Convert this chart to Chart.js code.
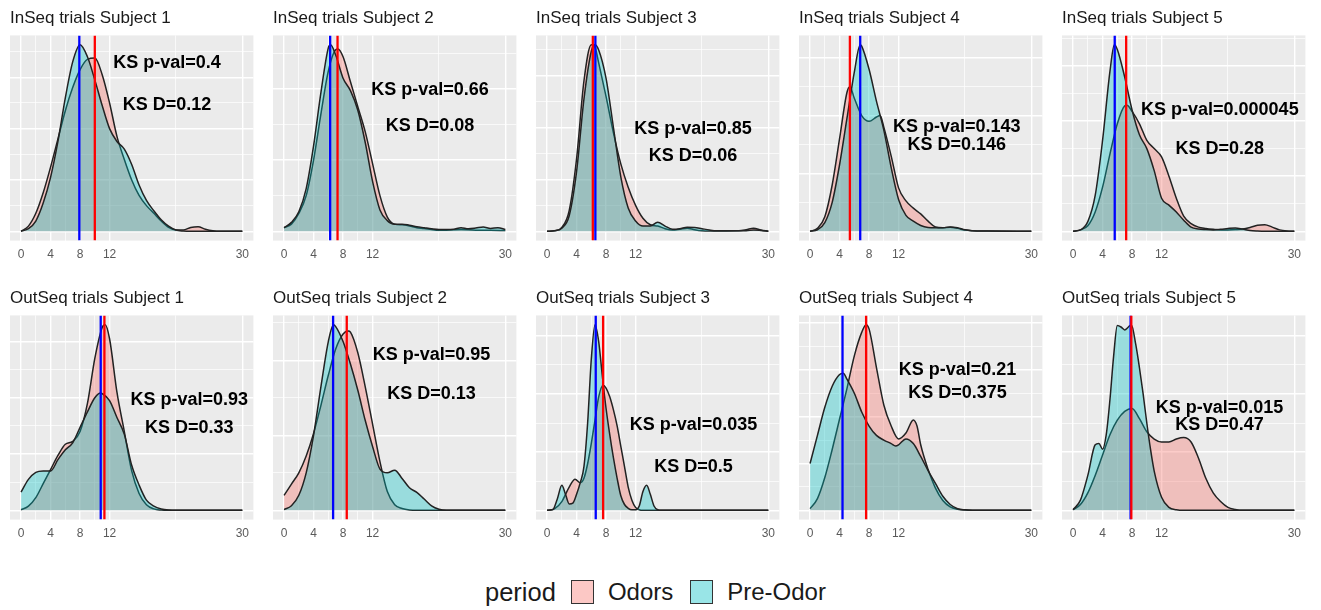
<!DOCTYPE html>
<html>
<head>
<meta charset="utf-8">
<script src="https://cdn.jsdelivr.net/npm/chart.js@4.4.1/dist/chart.umd.min.js"></script>
<style>
  body {
    margin: 0;
    background: #fff;
    width: 1321px;
    height: 610px;
    position: relative;
    overflow: hidden;
    font-family: 'Liberation Sans', Arial, sans-serif;
  }
  .panel { position: absolute; }
  .legend {
    position: absolute;
    left: 485px;
    top: 578px;
    height: 28px;
    display: flex;
    align-items: center;
    font-size: 24px;
    color: #1a1a1a;
    white-space: nowrap;
  }
  .legend .ltitle { font-size: 25.5px; }
  .legend .key {
    display: inline-block;
    width: 21px;
    height: 22px;
    border: 1px solid #333;
    margin: 0 14px 0 15px;
  }
  .legend .key.second { margin-left: 17px; }
</style>
</head>
<body>
<div id="panels"></div>
<div class="legend">
  <span class="ltitle">period</span>
  <span class="key" style="background: rgba(248,118,109,0.4)"></span><span>Odors</span>
  <span class="key second" style="background: rgba(0,191,196,0.4)"></span><span>Pre-Odor</span>
</div>

<script>
// ---- axis breaks (reaction time axis, shared by all panels) ----
const xTickLabels = [0, 4, 8, 12, 30];
const xMinorBreaks = [2, 6, 10, 21];

const panelTitles = [
  'InSeq trials Subject 1', 'InSeq trials Subject 2', 'InSeq trials Subject 3',
  'InSeq trials Subject 4', 'InSeq trials Subject 5',
  'OutSeq trials Subject 1', 'OutSeq trials Subject 2', 'OutSeq trials Subject 3',
  'OutSeq trials Subject 4', 'OutSeq trials Subject 5'
];

const ksPval = ['0.4', '0.66', '0.85', '0.143', '0.000045', '0.93', '0.95', '0.035', '0.21', '0.015'];
const ksD = ['0.12', '0.08', '0.06', '0.146', '0.28', '0.33', '0.13', '0.5', '0.375', '0.47'];

// vertical reference lines (red = Odors, blue = Pre-Odor)
const odorsCenter = [10.0, 7.25, 6.2, 5.4, 7.2, 11.3, 8.5, 7.6, 7.6, 7.9];
const preOdorCenter = [7.9, 6.25, 6.55, 6.8, 5.65, 10.8, 6.65, 6.6, 4.4, 7.8];

// annotate() anchors: [x, y of p-val line, y of D line]
const ksLabelAt = [
  [19.8, 6.56, 4.93], [19.8, 3.96, 2.97], [19.8, 3.96, 2.92], [19.9, 3.6, 2.97], [19.9, 4.4, 3.0],
  [22.8, 3.93, 2.92], [20.0, 4.15, 3.1], [19.85, 2.93, 1.49], [20.0, 6.0, 5.0], [19.85, 3.5, 2.93]
];

// ---- kernel density estimates, [x, density] ----
const inSeq1Odors = [[0,0],[1,0.2],[2,0.7],[3,1.5],[4,2.5],[5,3.6],[6,4.7],[7,5.6],[8,6.3],[9,6.7],[10,6.75],[11,6.1],[12,5.0],[13,3.7],[14,2.8],[15,2.0],[16,1.4],[17,1.0],[18,0.7],[19,0.4],[20,0.15],[21,0.05],[22,0.05],[23,0.15],[24,0.18],[25,0.08],[26,0.02],[27,0],[30,0]];
const inSeq1Pre = [[0,0],[1,0.1],[2,0.4],[3,1.1],[4,2.1],[5,3.5],[6,5.2],[7,6.6],[8,7.27],[9,6.8],[10,5.9],[11,4.9],[12,4.0],[13,3.5],[14,3.2],[15,2.6],[16,1.8],[17,1.2],[18,0.8],[19,0.45],[20,0.2],[21,0.05],[22,0.01],[23,0],[30,0]];

const inSeq2Odors = [[0,0.1],[1,0.2],[2,0.5],[3,1.0],[4,2.0],[5,3.3],[6,4.5],[7,5.1],[7.3,5.12],[8,4.9],[9,4.2],[10,3.5],[11,2.8],[12,1.9],[13,1.0],[14,0.4],[15,0.2],[16,0.18],[17,0.15],[18,0.1],[19,0.08],[20,0.05],[21,0.03],[22,0.03],[24,0.05],[26,0.03],[28,0.03],[30,0.02]];
const inSeq2Pre = [[0,0.1],[1,0.25],[2,0.55],[3,1.2],[4,2.4],[5,3.9],[6,5.15],[6.3,5.24],[7,4.95],[8,4.3],[9,3.95],[10,3.4],[11,2.5],[12,1.4],[13,0.6],[14,0.3],[15,0.2],[16,0.2],[17,0.17],[18,0.13],[19,0.1],[20,0.07],[21,0.05],[22,0.05],[23,0.06],[24,0.1],[25,0.07],[26,0.09],[27,0.12],[28,0.08],[29,0.1],[30,0.05]];

const inSeq3Odors = [[0,0],[1,0.02],[2,0.15],[3,0.8],[4,2.8],[5,5.8],[6,7.2],[6.5,7.1],[7,6.5],[8,5.2],[9,3.8],[10,2.6],[11,1.7],[12,1.0],[13,0.5],[14,0.25],[15,0.2],[16,0.1],[17,0.05],[18,0.08],[19,0.12],[20,0.06],[21,0.02],[22,0.01],[26,0.02],[27,0.06],[28,0.12],[29,0.05],[30,0]];
const inSeq3Pre = [[0,0],[1,0.02],[2,0.12],[3,0.6],[4,2.3],[5,5.1],[6,6.95],[6.5,7.2],[7,7.0],[8,5.9],[9,4.0],[10,2.1],[11,0.9],[12,0.4],[13,0.2],[14,0.2],[15,0.35],[16,0.2],[17,0.08],[18,0.1],[19,0.16],[20,0.15],[21,0.1],[22,0.05],[23,0.02],[27,0.02],[28,0.05],[29,0.03],[30,0]];

const inSeq4Odors = [[0,0],[1,0.1],[2,0.5],[3,1.6],[4,3.2],[5,4.8],[5.4,5.0],[6,4.6],[7,4.0],[8,3.8],[9,3.95],[9.5,4.0],[10,3.6],[11,2.6],[12,1.5],[13,1.05],[14,0.8],[15,0.6],[16,0.35],[17,0.15],[18,0.12],[19,0.14],[20,0.1],[21,0.04],[22,0.02],[24,0.01],[30,0]];
const inSeq4Pre = [[0,0],[1,0.05],[2,0.3],[3,1.0],[4,2.3],[5,3.9],[6,5.5],[6.8,6.45],[7,6.4],[8,5.6],[9,4.5],[10,3.5],[11,2.2],[12,1.1],[13,0.55],[14,0.35],[15,0.2],[16,0.13],[17,0.12],[18,0.12],[19,0.15],[20,0.12],[21,0.05],[22,0.02],[24,0.01],[30,0]];

const inSeq5Odors = [[0,0],[1,0.05],[2,0.2],[3,0.7],[4,1.6],[5,2.8],[6,3.9],[7,4.55],[7.3,4.57],[8,4.35],[9,3.9],[10,3.3],[11,3.0],[12,2.7],[13,2.0],[14,1.2],[15,0.55],[16,0.28],[17,0.15],[18,0.1],[19,0.07],[20,0.05],[21,0.05],[22,0.06],[23,0.08],[24,0.14],[25,0.22],[26,0.24],[27,0.15],[28,0.05],[29,0.01],[30,0]];
const inSeq5Pre = [[0,0],[1,0.05],[2,0.35],[3,1.3],[4,3.3],[5,5.8],[5.6,6.77],[6,6.6],[7,5.6],[8,4.4],[9,3.5],[10,3.0],[11,2.2],[12,1.2],[13,0.95],[14,0.7],[15,0.4],[16,0.15],[17,0.08],[18,0.06],[19,0.05],[20,0.07],[21,0.1],[22,0.12],[23,0.08],[24,0.03],[25,0.01],[26,0],[30,0]];

const outSeq1Odors = [[0,0.02],[1,0.15],[2,0.45],[3,0.95],[4,1.45],[5,1.95],[6,2.35],[7,2.45],[8,2.8],[9,3.8],[10,5.4],[11,6.5],[11.4,6.6],[12,6.1],[13,4.2],[14,2.8],[15,1.4],[16,0.6],[17,0.2],[18,0.05],[19,0.01],[20,0],[30,0]];
const outSeq1Pre = [[0,0.65],[1,1.1],[2,1.35],[3,1.4],[4,1.4],[5,1.8],[6,2.15],[7,2.4],[8,2.95],[9,3.5],[10,4.0],[10.8,4.17],[11,4.15],[12,3.9],[13,3.3],[14,2.7],[15,1.6],[16,0.9],[17,0.36],[18,0.15],[19,0.05],[20,0.01],[21,0],[30,0]];

const outSeq2Odors = [[0,0.4],[1,0.7],[2,1.0],[3,1.45],[4,2.05],[5,2.8],[6,3.6],[7,4.3],[8,4.7],[8.7,4.78],[9,4.75],[10,4.2],[11,3.3],[12,2.3],[13,1.3],[14,0.5],[15,0.15],[16,0.05],[17,0.01],[18,0],[30,0]];
const outSeq2Pre = [[0,0.02],[1,0.12],[2,0.4],[3,1.0],[4,2.0],[5,3.3],[6,4.5],[6.7,4.95],[7,4.9],[8,4.5],[9,3.9],[10,3.2],[11,2.4],[12,1.7],[13,1.1],[14,1.0],[15,1.07],[16,0.85],[17,0.6],[18,0.48],[19,0.3],[20,0.12],[21,0.03],[22,0],[30,0]];

const outSeq3Odors = [[0,0],[1,0.05],[2,0.3],[3,0.8],[3.8,1.07],[4.5,0.95],[5,1.1],[5.5,1.6],[6,2.3],[6.5,3.1],[7,3.9],[7.6,4.3],[8,4.2],[8.5,3.9],[9,3.45],[9.5,2.9],[10,2.2],[10.5,1.5],[11,0.8],[11.5,0.35],[12,0.1],[12.5,0.02],[13,0],[30,0]];
const outSeq3Pre = [[0,0],[0.8,0.03],[1.4,0.4],[2,0.86],[2.5,0.55],[3,0.22],[3.5,0.25],[4,0.55],[4.5,0.95],[5,1.5],[5.5,3.0],[6,5.2],[6.5,6.38],[7,5.8],[7.5,4.6],[8,3.5],[8.5,2.6],[9,1.8],[9.5,1.1],[10,0.5],[10.5,0.2],[11,0.07],[11.5,0.02],[12,0.02],[12.5,0.15],[13,0.65],[13.5,0.86],[14,0.55],[14.5,0.15],[15,0.02],[15.5,0],[30,0]];

const outSeq4Odors = [[0,0.07],[1,0.5],[2,1.4],[3,2.6],[4,3.9],[5,5.2],[6,6.6],[7,7.6],[7.6,7.93],[8,7.75],[9,6.1],[10,4.5],[11,3.6],[12,3.05],[13,3.3],[14,3.86],[14.5,3.6],[15,2.8],[16,1.75],[17,0.95],[18,0.42],[19,0.15],[20,0.05],[21,0.01],[22,0],[30,0]];
const outSeq4Pre = [[0,2.0],[1,3.2],[2,4.4],[3,5.3],[4,5.8],[4.5,5.86],[5,5.6],[6,5.0],[7,4.2],[8,3.6],[9,3.2],[10,3.0],[11,2.85],[11.6,2.75],[12,2.8],[13,3.05],[14,2.85],[15,2.3],[16,1.7],[17,1.15],[18,0.6],[19,0.25],[20,0.07],[21,0.02],[22,0],[30,0]];

const outSeq5Odors = [[0,0.02],[1,0.2],[2,0.6],[3,1.2],[4,1.9],[5,2.6],[6,3.1],[7,3.4],[8,3.5],[9,3.15],[10,2.7],[11,2.45],[12,2.35],[13,2.35],[14,2.45],[15,2.5],[16,2.35],[17,1.8],[18,1.1],[19,0.6],[20,0.3],[21,0.1],[22,0.03],[23,0],[30,0]];
const outSeq5Pre = [[0,0.02],[1,0.35],[2,1.2],[3,2.25],[3.5,2.3],[4,2.1],[4.5,2.6],[5,3.8],[5.5,5.3],[6,6.35],[6.5,6.3],[7,6.2],[7.5,6.3],[7.9,6.38],[8.5,5.7],[9,4.9],[9.5,4.0],[10,3.0],[10.5,2.1],[11,1.35],[12,0.45],[13,0.1],[14,0.02],[15,0],[30,0]];

const odorsDensity = [inSeq1Odors, inSeq2Odors, inSeq3Odors, inSeq4Odors, inSeq5Odors,
                      outSeq1Odors, outSeq2Odors, outSeq3Odors, outSeq4Odors, outSeq5Odors];
const preOdorDensity = [inSeq1Pre, inSeq2Pre, inSeq3Pre, inSeq4Pre, inSeq5Pre,
                        outSeq1Pre, outSeq2Pre, outSeq3Pre, outSeq4Pre, outSeq5Pre];

// ---- drawing ----
const FONT = "'Liberation Sans', Arial, sans-serif";
const ODORS_FILL = 'rgba(248,118,109,0.37)';
const PRE_FILL = 'rgba(0,191,196,0.35)';

// grey panel background, mean lines and KS text
const panelDecor = {
  id: 'panelDecor',
  beforeDraw(chart) {
    const a = chart.chartArea, ctx = chart.ctx;
    ctx.save();
    ctx.fillStyle = '#EBEBEB';
    ctx.fillRect(a.left, a.top, a.right - a.left, a.bottom - a.top);
    ctx.restore();
  },
  afterDatasetsDraw(chart, args, opts) {
    const a = chart.chartArea, ctx = chart.ctx, xs = chart.scales.x;
    ctx.save();
    ctx.beginPath();
    ctx.rect(a.left, a.top, a.right - a.left, a.bottom - a.top);
    ctx.clip();
    ctx.lineWidth = 2.3;
    [[opts.blue, '#0000FF'], [opts.red, '#FF0000']].forEach(([v, col]) => {
      const px = xs.getPixelForValue(v);
      ctx.strokeStyle = col;
      ctx.beginPath();
      ctx.moveTo(px, a.top);
      ctx.lineTo(px, a.bottom);
      ctx.stroke();
    });
    ctx.restore();
  },
  afterDraw(chart, args, opts) {
    const ctx = chart.ctx, xs = chart.scales.x, ys = chart.scales.y;
    const [lx, py, dy] = opts.labelAt;
    ctx.save();
    ctx.font = 'bold 18px ' + FONT;
    ctx.fillStyle = '#000';
    ctx.textAlign = 'center';
    ctx.textBaseline = 'middle';
    ctx.fillText('KS p-val=' + opts.pval, xs.getPixelForValue(lx), ys.getPixelForValue(py));
    ctx.fillText('KS D=' + opts.d, xs.getPixelForValue(lx), ys.getPixelForValue(dy));
    ctx.restore();
  }
};

const allXBreaks = [...xTickLabels, ...xMinorBreaks].sort((a, b) => a - b);

function densityDataset(label, pts, fill, order) {
  return {
    label: label,
    data: pts.map(([x, y]) => ({ x: x, y: y })),
    fill: 'origin',
    backgroundColor: fill,
    borderColor: '#222',
    borderWidth: 1.5,
    pointRadius: 0,
    cubicInterpolationMode: 'monotone',
    order: order
  };
}

function makePanel(i) {
  const row = i < 5 ? 0 : 1;
  const col = i % 5;
  const div = document.createElement('div');
  div.className = 'panel';
  div.style.left = (10 + 263 * col) + 'px';
  div.style.top = (row === 0 ? 0 : 280) + 'px';
  const canvas = document.createElement('canvas');
  canvas.width = 246;
  canvas.height = row === 0 ? 269 : 268;
  div.appendChild(canvas);
  document.getElementById('panels').appendChild(div);

  const peak = Math.max(...odorsDensity[i].map(p => p[1]), ...preOdorDensity[i].map(p => p[1]));

  new Chart(canvas.getContext('2d'), {
    type: 'line',
    data: {
      datasets: [
        densityDataset('Odors', odorsDensity[i], ODORS_FILL, 1),
        densityDataset('Pre-Odor', preOdorDensity[i], PRE_FILL, 0)
      ]
    },
    options: {
      responsive: false,
      animation: false,
      events: [],
      layout: { padding: 0 },
      plugins: {
        legend: { display: false },
        tooltip: { enabled: false },
        title: {
          display: true,
          text: panelTitles[i],
          align: 'start',
          color: '#1a1a1a',
          font: { family: FONT, size: 17, weight: 'normal' },
          padding: { top: 8, bottom: 7 }
        },
        panelDecor: {
          blue: preOdorCenter[i],
          red: odorsCenter[i],
          pval: ksPval[i],
          d: ksD[i],
          labelAt: ksLabelAt[i]
        }
      },
      scales: {
        x: {
          type: 'linear',
          min: -1.5,
          max: 31.5,
          afterBuildTicks: s => { s.ticks = allXBreaks.map(v => ({ value: v })); },
          ticks: {
            autoSkip: false,
            maxRotation: 0,
            padding: 7,
            color: '#5a5a5a',
            font: { family: FONT, size: 12 },
            callback: v => xTickLabels.includes(v) ? String(v) : ''
          },
          grid: {
            color: '#fff',
            lineWidth: c => (c.tick && xTickLabels.includes(c.tick.value)) ? 1.4 : 0.7,
            drawTicks: false
          },
          border: { display: false }
        },
        y: {
          min: -0.05 * peak,
          max: 1.05 * peak,
          afterBuildTicks: s => {
            const t = [];
            for (let v = 0; v <= s.max; v++) t.push({ value: v });
            s.ticks = t;
          },
          ticks: { display: false },
          grid: {
            color: '#fff',
            lineWidth: c => (c.tick && c.tick.value % 2 === 0) ? 1.4 : 0.7,
            drawTicks: false
          },
          border: { display: false }
        }
      }
    },
    plugins: [panelDecor]
  });
}

for (let i = 0; i < 10; i++) makePanel(i);
</script>
</body>
</html>
